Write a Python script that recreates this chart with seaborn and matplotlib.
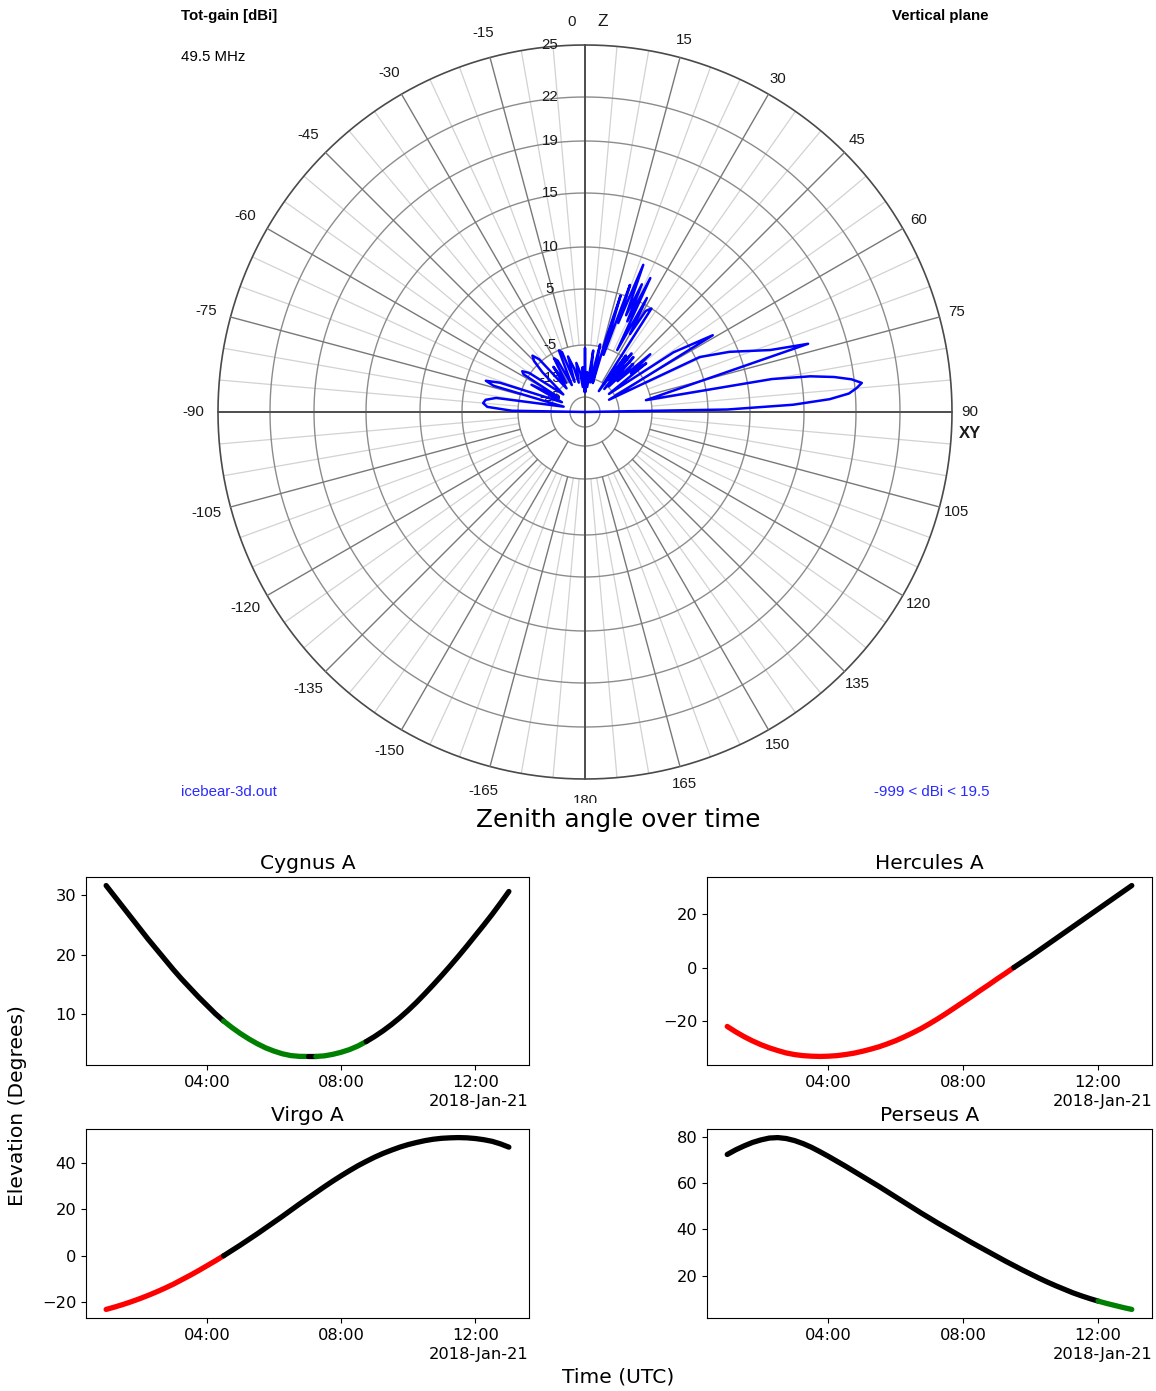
import numpy as np
import pandas as pd
import matplotlib
matplotlib.use("Agg")
import matplotlib.pyplot as plt
import matplotlib.dates as mdates
from matplotlib.transforms import offset_copy, Bbox, TransformedBbox
import seaborn as sns

# ---------------- antenna pattern, vertical plane, 49.5 MHz ----------------
pattern_theta_deg = [
    -90, -89, -87, -85, -83, -81, -76, -74, -72.5, -71, -67, -63, -61, -58.5, -57,
    -55, -51, -47, -45, -43, -41, -38, -35, -33, -30, -28, -26, -23, -21, -19,
    -17, -14, -12, -10, -7, -5, -3, -1, 0, 1, 3, 5, 7.6, 10, 12.6, 14, 15, 16,
    17, 18, 19.5, 20.5, 21.6, 23, 24, 25, 26, 27.5, 28.5, 30, 31, 32.7, 33.5,
    36, 37, 38.5, 40, 41.5, 43, 45, 46.5, 48.5, 50, 51.5, 53, 56, 59, 63, 64.4,
    67.4, 71.5, 73, 79, 80, 81, 82, 83, 84, 85, 86, 87, 88, 89, 90,
]
pattern_gain_dbi = [
    -40, -3.9, 0.5, 1.3, 0.9, -0.9, -21.3, 0.0, 1.6, -0.9, -19.7, -7.1, -17.1, -4.1, -3.6,
    -4.8, -18.2, -7.7, -4.1, -3.2, -4.5, -17.1, -8.6, -14.7, -6.5, -7.7, -17.1, -5.0, -5.9, -16.1,
    -7.7, -11.7, -17.1, -10.2, -13.2, -19.7, -11.7, -22.4, -5.9, -22.4, -13.2, -19.7, -6.5, -17.1, -4.6, -11.7, -17.1, -3.0,
    4.8, -7.1, 6.4, 0.0, 9.2, 1.8, 7.0, 0.9, 8.1, -4.5, 5.8, -0.9, 4.1, 5.0, -19.7,
    -4.5, -13.2, -3.6, -17.1, -3.9, -14.7, -4.8, -11.7, -1.4, -7.1, -3.0, -17.1, 2.1, 8.1, -18.7, 5.5,
    9.0, 12.8, 16.1, -6.5, 12.3, 15.7, 17.5, 18.8, 19.5, 19.1, 18.5, 17.0, 14.0, 7.3, -40,
]
gain_rings_dbi = [25, 22, 19, 15, 10, 5, -5, -15, -25]
angle_labels_deg = list(range(-165, 181, 15))

# ---------------- source elevations, 2018-01-21, every 15 min from 01:00 UTC ----------------
quarter_hours = [q / 4 for q in range(4, 53)]

cyg_elev = [31.6, 29.8, 28.0, 26.2, 24.4, 22.6, 20.9, 19.2, 17.5, 15.9, 14.4, 12.9, 11.5,
            10.1, 8.85, 7.75, 6.75, 5.85, 5.05, 4.35, 3.8, 3.35, 3.05, 2.92, 2.9, 2.9,
            3.0, 3.25, 3.6, 4.05, 4.65, 5.4, 6.25, 7.2, 8.25, 9.4, 10.65, 12.0, 13.45,
            14.95, 16.5, 18.1, 19.75, 21.45, 23.2, 24.95, 26.75, 28.65, 30.6]
cyg_state = ["up"] * 14 + ["low"] * 10 + ["up"] + ["low"] * 6 + ["up"] * 18

her_elev = [-22.0, -24.0, -25.8, -27.4, -28.8, -30.0, -31.0, -31.9, -32.5, -32.9, -33.1,
            -33.2, -33.1, -32.9, -32.5, -32.0, -31.3, -30.5, -29.6, -28.5, -27.3, -25.9,
            -24.4, -22.8, -21.0, -19.1, -17.1, -15.0, -12.9, -10.8, -8.6, -6.5, -4.3, -2.2,
            0.0, 2.1, 4.2, 6.4, 8.6, 10.8, 13.0, 15.2, 17.4, 19.6, 21.8, 24.0, 26.2, 28.4, 30.6]
her_state = ["below"] * 34 + ["up"] * 15

vir_elev = [-23.0, -22.0, -20.9, -19.7, -18.4, -17.0, -15.5, -13.9, -12.2, -10.3, -8.4,
            -6.4, -4.3, -2.2, 0.0, 2.3, 4.6, 7.0, 9.4, 11.9, 14.4, 16.9, 19.5, 22.1, 24.6,
            27.1, 29.6, 32.0, 34.3, 36.5, 38.6, 40.5, 42.3, 43.9, 45.3, 46.6, 47.7, 48.6,
            49.4, 50.0, 50.4, 50.6, 50.7, 50.6, 50.3, 49.8, 49.1, 48.0, 46.6]
vir_state = ["below"] * 14 + ["up"] * 35

per_elev = [72.4, 74.4, 76.1, 77.6, 78.7, 79.5, 79.7, 79.3, 78.4, 77.1, 75.5, 73.6, 71.6,
            69.5, 67.4, 65.2, 63.0, 60.8, 58.6, 56.3, 54.0, 51.7, 49.4, 47.1, 44.9, 42.7,
            40.6, 38.5, 36.4, 34.3, 32.3, 30.3, 28.3, 26.3, 24.4, 22.5, 20.7, 18.9, 17.2,
            15.6, 14.1, 12.6, 11.3, 10.1, 9.0, 8.0, 7.1, 6.2, 5.4]
per_state = ["up"] * 44 + ["low"] * 5

state_colors = {"up": "black", "low": "green", "below": "red"}

# ---------------- style ----------------
sns.set_style("ticks", rc={"axes.edgecolor": "black", "xtick.color": "black",
                           "ytick.color": "black", "text.color": "black",
                           "axes.labelcolor": "black"})
plt.rcParams["font.family"] = ["DejaVu Sans"]
plt.rcParams["xtick.labelsize"] = 11.7
plt.rcParams["ytick.labelsize"] = 11.7
plt.rcParams["xtick.major.size"] = 3.5
plt.rcParams["ytick.major.size"] = 3.5
plt.rcParams["axes.linewidth"] = 0.8

W, H = 1156, 1391
fig = plt.figure(figsize=(W / 100, H / 100), dpi=100)


def fx(x):
    return x / W


def fy(y):
    return 1 - y / H


# ---------------- polar gain plot ----------------
CX, CY, RO = 585, 412, 367
scale_db = [-40, -25, -15, -5, 5, 10, 15, 19, 22, 25, 40]
scale_r = np.array([0, 15, 34, 67, 123, 165, 219, 271, 315, 367, 627]) / 367.0


def gain_to_radius(v):
    return np.interp(v, scale_db, scale_r)


def radius_to_gain(v):
    return np.interp(v, scale_r, scale_db)


pax = fig.add_axes([fx(CX - RO), fy(CY + RO), 2 * RO / W, 2 * RO / H], projection="polar")
pax.set_theta_zero_location("N")
pax.set_theta_direction(-1)
pax.set_rscale("function", functions=(gain_to_radius, radius_to_gain))
pax.set_rlim(-40, 25)
pax.set_xticks([])
pax.set_yticks([])
pax.grid(False)
pax.spines["polar"].set_visible(False)
pax.patch.set_alpha(0)

full = np.linspace(0, 2 * np.pi, 721)
# light 5-degree spokes
for a in range(0, 360, 5):
    if a % 15:
        pax.plot([np.deg2rad(a)] * 2, [-5, 25], color="#d2d2d2", lw=0.9, clip_on=False, zorder=1)
# rings
for g in gain_rings_dbi:
    outer = g == gain_rings_dbi[0]
    pax.plot(full, [g] * len(full), color="#4a4a4a" if outer else "#8c8c8c",
             lw=1.2 if outer else 1.0, clip_on=False, zorder=2)
# main spokes
for a in range(0, 360, 15):
    if a % 90 == 0:
        pax.plot([np.deg2rad(a)] * 2, [-40, 25], color="#4d4d4d", lw=1.4, clip_on=False, zorder=3)
    else:
        r0 = -15 if a % 30 == 0 else -5
        pax.plot([np.deg2rad(a)] * 2, [r0, 25], color="#787878", lw=1.0, clip_on=False, zorder=3)

lab_font = dict(family=["Liberation Sans", "DejaVu Sans"], size=10.8, color="#1a1a1a")
ring_tr = offset_copy(pax.transData, fig=fig, x=-35, y=0, units="dots")
for g in gain_rings_dbi:
    pax.text(0, g, str(g), transform=ring_tr, ha="center", va="center", zorder=4, **lab_font)

for a in angle_labels_deg:
    if a in (0, 180):
        continue
    R = 385 if a > 0 else 392
    th = np.deg2rad(a)
    pax.text(0.5 + R * np.sin(th) / (2 * RO), 0.5 + R * np.cos(th) / (2 * RO), str(a),
             transform=pax.transAxes, ha="center", va="center", clip_on=False, **lab_font)
fig.text(fx(572), fy(22), "0", ha="center", va="center", **lab_font)
bottom_lab = fig.text(fx(585), fy(801), "180", ha="center", va="center", **lab_font)
bottom_lab.set_clip_box(TransformedBbox(Bbox.from_extents(0, fy(803), 1, 1), fig.transFigure))
bottom_lab.set_clip_on(True)
fig.text(fx(603), fy(22), "Z", ha="center", va="center",
         family=["Liberation Sans", "DejaVu Sans"], size=12.5, color="#1a1a1a")
fig.text(fx(970), fy(434), "XY", ha="center", va="center", weight="bold",
         family=["Liberation Sans", "DejaVu Sans"], size=12, color="#1a1a1a")

pax.plot(np.deg2rad(pattern_theta_deg), pattern_gain_dbi, color="#0000ff", lw=1.8,
         zorder=6, clip_on=False)

hdr = dict(family=["Liberation Sans", "DejaVu Sans"], size=10.8, va="center")
fig.text(fx(181), fy(16), "Tot-gain [dBi]", ha="left", weight="bold", **hdr)
fig.text(fx(181), fy(57), "49.5 MHz", ha="left", **hdr)
fig.text(fx(989), fy(16), "Vertical plane", ha="right", weight="bold", **hdr)
fig.text(fx(181), fy(792), "icebear-3d.out", ha="left", color="#2a2aff", **hdr)
fig.text(fx(990), fy(792), "-999 < dBi < 19.5", ha="right", color="#2a2aff", **hdr)

fig.text(fx(618), fy(820), "Zenith angle over time", ha="center", va="center", size=17.8)

# ---------------- elevation panels ----------------
day0 = pd.Timestamp("2018-01-21")


def draw_track(ax, hours, elev, state, title):
    df = pd.DataFrame({"time": day0 + pd.to_timedelta(hours, unit="h"),
                       "elev": elev, "state": state})
    run_id = (df["state"] != df["state"].shift()).cumsum()
    for _, idx in df.groupby(run_id).groups.items():
        i0, i1 = idx.min(), idx.max()
        seg = df.iloc[i0:min(i1 + 2, len(df))]
        sns.lineplot(data=seg, x="time", y="elev", ax=ax, sort=False, estimator=None,
                     color=state_colors[df["state"].iloc[i0]], lw=3.8,
                     solid_capstyle="round", solid_joinstyle="round")
    ax.set(xlabel="", ylabel="")
    ax.set_title(title, fontsize=14.6)
    loc = mdates.HourLocator(byhour=[4, 8, 12])
    ax.xaxis.set_major_locator(loc)
    ax.xaxis.set_major_formatter(mdates.ConciseDateFormatter(loc))


panels = [
    ((86, 877, 529, 1065), cyg_elev, cyg_state, "Cygnus A"),
    ((707, 877, 1152, 1065), her_elev, her_state, "Hercules A"),
    ((86, 1129, 529, 1318), vir_elev, vir_state, "Virgo A"),
    ((707, 1129, 1152, 1318), per_elev, per_state, "Perseus A"),
]
for (x0, y0, x1, y1), el, st, name in panels:
    ax = fig.add_axes([fx(x0), fy(y1), (x1 - x0) / W, (y1 - y0) / H])
    draw_track(ax, quarter_hours, el, st, name)
    ax.xaxis.get_offset_text().set_fontsize(11.7)

fig.text(fx(18), fy(1106), "Elevation (Degrees)", rotation=90, ha="center", va="center", size=14.6)
fig.text(fx(618), fy(1377), "Time (UTC)", ha="center", va="center", size=14.6)

fig.savefig("out.png", dpi=100)
